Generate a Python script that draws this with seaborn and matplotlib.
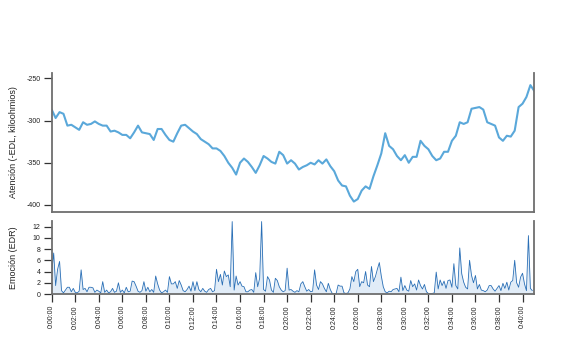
# Libraries
# =====================================================================
import numpy as np
import pandas as pd
import seaborn as sns
import matplotlib.pyplot as plt

# Data
# =====================================================================
# Atención (-EDL, kiloohmios), one value every 20 s
atencion = [
    -287, -297, -290, -292, -306, -305, -308, -311, -302, -305,
    -304, -301, -304, -306, -306, -313, -312, -314, -317, -317,
    -321, -314, -306, -314, -315, -316, -323, -310, -310, -317,
    -323, -325, -315, -306, -305, -309, -313, -316, -322, -325,
    -328, -333, -333, -336, -342, -350, -356, -364, -350, -345,
    -349, -355, -362, -353, -342, -345, -349, -351, -337, -341,
    -351, -347, -351, -358, -355, -353, -350, -352, -347, -351,
    -346, -354, -360, -371, -377, -378, -389, -396, -393, -383,
    -378, -381, -366, -353, -339, -315, -330, -334, -342, -347,
    -341, -350, -343, -343, -324, -330, -334, -342, -347, -345,
    -337, -337, -324, -318, -302, -304, -302, -286, -285, -284,
    -287, -302, -304, -306, -320, -324, -318, -319, -312, -284,
    -280, -272, -258, -265,
]
step_line = 20

# Emoción (EDR), one value every 10 s
emocion = [
    3.8, 7.3, 1.5, 4.4, 5.8, 0.6, 0.2, 0.7, 1.2, 1.2,
    0.4, 1.0, 0.3, 0.2, 0.5, 4.3, 0.8, 1.0, 0.4, 1.2,
    1.2, 1.1, 0.3, 0.7, 0.5, 0.2, 2.2, 0.3, 0.7, 0.2,
    0.4, 1.0, 0.3, 0.5, 2.0, 0.3, 0.7, 0.2, 1.2, 0.4,
    0.5, 2.3, 2.2, 1.4, 0.5, 0.3, 0.6, 2.2, 0.5, 1.2,
    0.4, 0.8, 0.3, 3.2, 1.8, 0.7, 0.2, 0.4, 0.7, 0.3,
    3.1, 1.8, 1.8, 2.2, 1.0, 2.4, 1.6, 0.6, 0.4, 0.8,
    1.4, 0.5, 2.2, 0.6, 2.2, 0.8, 0.4, 1.0, 0.5, 0.3,
    0.8, 1.0, 0.4, 0.6, 4.4, 2.2, 3.5, 1.6, 4.1, 3.1,
    3.4, 1.3, 12.9, 0.7, 3.2, 1.6, 2.2, 1.4, 1.3, 0.4,
    0.4, 0.7, 0.8, 0.3, 3.8, 1.3, 2.8, 12.9, 0.8, 0.5,
    3.1, 2.5, 0.7, 0.3, 2.8, 2.4, 1.3, 0.7, 0.4, 0.6,
    4.6, 0.7, 0.8, 0.5, 0.3, 0.6, 0.4, 1.8, 2.2, 1.3,
    0.5, 0.8, 0.4, 0.5, 4.3, 1.6, 0.8, 2.2, 1.8, 1.0,
    0.4, 1.9, 0.8, 0.1, 0.1, 0.1, 1.6, 1.4, 1.4, 0.2,
    0.1, 0.2, 0.9, 3.1, 2.2, 4.0, 4.4, 1.3, 2.2, 2.0,
    4.0, 1.6, 1.3, 4.9, 2.2, 3.1, 4.4, 5.6, 3.2, 1.3,
    0.4, 0.2, 0.5, 0.4, 0.8, 0.9, 1.0, 0.4, 3.0, 0.6,
    1.5, 0.7, 0.5, 2.4, 1.3, 1.8, 0.7, 2.5, 1.5, 0.9,
    1.7, 0.4, 0.1, 0.1, 0.1, 0.2, 3.9, 0.9, 2.5, 1.5,
    2.3, 1.0, 2.4, 2.5, 1.2, 5.4, 1.5, 0.9, 8.2, 3.6,
    2.1, 1.2, 0.9, 6.0, 3.3, 2.0, 3.3, 0.9, 1.7, 0.7,
    0.6, 0.4, 0.7, 1.5, 1.5, 0.9, 0.5, 1.0, 1.5, 0.6,
    1.9, 1.0, 2.1, 0.7, 2.1, 2.4, 6.0, 2.0, 1.2, 3.0,
    3.7, 1.8, 0.6, 10.4, 1.0, 0.6,
]
step_edr = 10

# Axis ticks
att_ticks = [-250, -300, -350, -400]
edr_ticks = [0, 2, 4, 6, 8, 10, 12]
time_ticks = list(range(0, 2401, 120))
time_labels = ['0:%02d:00' % (t // 60) for t in time_ticks]

df_att = pd.DataFrame({'t': np.arange(len(atencion)) * step_line, 'v': atencion})
df_edr = pd.DataFrame({'t': np.arange(len(emocion)) * step_edr, 'v': emocion})

# Data Visualization
# =====================================================================
sns.set_theme(style="white")
plt.rcParams['font.family'] = ['Liberation Sans', 'DejaVu Sans']
plt.rcParams['axes.unicode_minus'] = False

fig = plt.figure(figsize=(5.67, 3.45), dpi=100)
ax1 = fig.add_axes([0.0912, 0.3864, 0.8501, 0.4011])
ax2 = fig.add_axes([0.0912, 0.1478, 0.8501, 0.2116])

spine_col = '#6e6e6e'

# Top: attention line
sns.lineplot(data=df_att, x='t', y='v', ax=ax1, color='#5aa8da', linewidth=1.5)
ax1.set_xlim(0, 2457)
ax1.set_ylim(-408, -244)
ax1.set_yticks(att_ticks)
ax1.set_xticks([])
ax1.set_xlabel('')
ax1.set_ylabel('Atención (-EDL, kiloohmios)', fontsize=6.5, color='#222222')

# Bottom: emotion spikes
ax2.fill_between(df_edr['t'], 0, df_edr['v'], color='#a9cbea', alpha=0.35, linewidth=0)
sns.lineplot(data=df_edr, x='t', y='v', ax=ax2, color='#2a6fb6', linewidth=0.6)
ax2.set_xlim(0, 2457)
ax2.set_ylim(0, 13)
ax2.set_yticks(edr_ticks)
ax2.set_xticks(time_ticks)
ax2.set_xticklabels(time_labels, rotation=90)
ax2.set_xlabel('')
ax2.set_ylabel('Emoción (EDR)', fontsize=6.5, color='#222222')

for ax in (ax1, ax2):
    ax.spines['top'].set_visible(False)
    for s in ('left', 'right', 'bottom'):
        ax.spines[s].set_color(spine_col)
        ax.spines[s].set_linewidth(1.3)
    ax.tick_params(axis='both', which='both', length=6, width=0.9, color='#333333',
                   labelsize=5, labelcolor='#222222', pad=2, left=True, bottom=True)
    ax.yaxis.set_label_coords(-0.07, 0.5)
ax1.tick_params(axis='x', bottom=False)

fig.savefig('out.png', dpi=100)
